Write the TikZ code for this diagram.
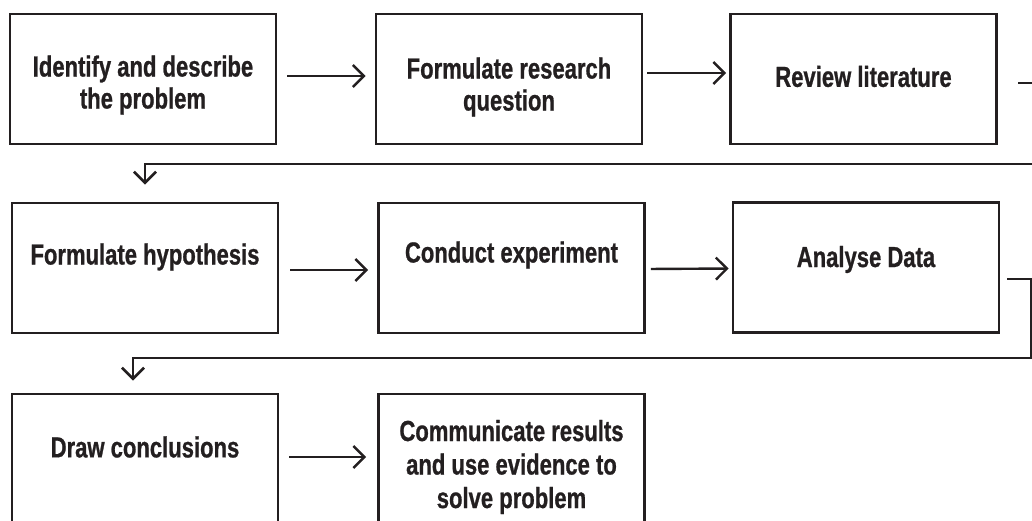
\documentclass[tikz,border=0pt]{standalone}
\usepackage{fontspec}
\setmainfont{Liberation Sans}[FakeStretch=0.76]
\usetikzlibrary{arrows.meta}
\definecolor{ink}{HTML}{231F20}
\begin{document}
\begin{tikzpicture}[x=1pt,y=-1pt,
  stepbox/.style={draw=ink, line width=2.8pt, minimum width=266pt, minimum height=130pt, inner sep=0pt},
  lbl/.style={font=\addfontfeature{FakeBold=0.8}\bfseries\fontsize{29}{32}\selectfont, text=ink, align=center, inner sep=0pt},
  arr/.style={draw=ink, line width=2.4pt, -{Straight Barb[length=11pt,width=22pt]}},
  loop/.style={arr, line width=2.7pt}]
\useasboundingbox (0,0) rectangle (1032,520);
\clip (0,0) rectangle (1032,520);

% first row
\node[stepbox, label={[lbl,yshift=-6pt]center:{Identify and describe\\the problem}}] (b1) at (143,79) {};
\node[stepbox, label={[lbl,yshift=-8pt]center:{Formulate research\\question}}] (b2) at (509,79) {};
\node[stepbox, label={[lbl,yshift=2.5pt]center:{Review literature}}] (b3) at (863.5,79) {};

% second row
\node[stepbox, label={[lbl,yshift=11pt]center:{Formulate hypothesis}}] (b4) at (145,268) {};
\node[stepbox, label={[lbl,yshift=13pt]center:{Conduct experiment}}] (b5) at (511.5,268) {};
\node[stepbox, label={[lbl,yshift=8pt]center:{Analyse Data}}] (b6) at (866,267.5) {};

% third row
\node[stepbox, label={[lbl,yshift=12pt]center:{Draw conclusions}}] (b7) at (145,459) {};
\node[stepbox, label={[lbl,font=\addfontfeature{FakeBold=0.8}\bfseries\fontsize{29}{33.5}\selectfont,yshift=-8pt]center:{Communicate results\\and use evidence to\\solve problem}}] (b8) at (511.5,459) {};

% arrows within rows
\draw[arr, shorten <=10pt, shorten >=9pt] ([yshift=3pt]b1.east) -- ([yshift=3pt]b2.west);
\draw[arr, shorten <=4pt, shorten >=3pt] ([yshift=6pt]b2.east) -- ([yshift=6pt]b3.west);
\draw[arr, shorten <=11pt, shorten >=9pt] ([yshift=-2pt]b4.east) -- ([yshift=-2pt]b5.west);
\draw[arr, shorten <=5pt, shorten >=3pt] ([yshift=-1pt]b5.east) -- ([yshift=-1pt]b6.west);
\draw[arr, shorten <=10pt, shorten >=11pt] ([yshift=2pt]b7.east) -- ([yshift=2pt]b8.west);

% return lines to the next row
\draw[loop, shorten >=17pt] ([xshift=20.5pt,yshift=-4pt]b3.east) -- (1045,83)
  |- (b4.north |- 0,164) -- (b4.north);
\draw[loop, shorten >=12pt] ([xshift=7pt,yshift=-11.5pt]b6.east) -- (1031,279)
  |- ([xshift=-12pt]b7.north |- 0,358) -- ([xshift=-12pt]b7.north);
\end{tikzpicture}
\end{document}
